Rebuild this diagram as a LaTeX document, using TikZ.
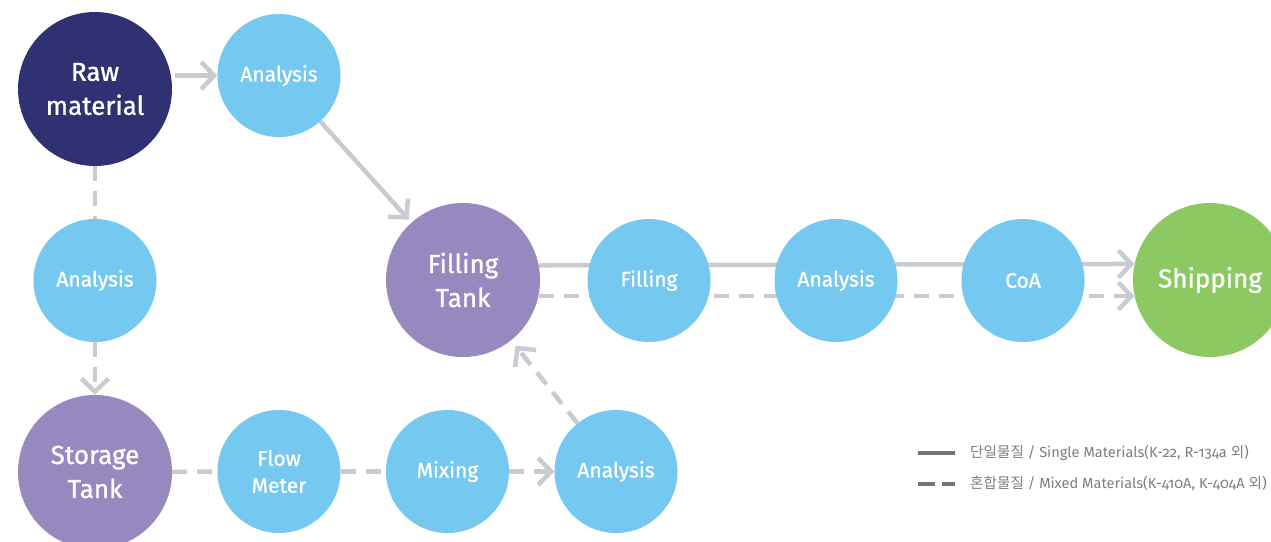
\documentclass[tikz,border=0pt]{standalone}
\usepackage{fontspec}
\setmainfont{Fira Sans}
\newfontfamily\nodefont[FakeBold=1.1]{Fira Sans}
\newfontfamily\krfont{Noto Sans CJK KR}
\newfontfamily\legfont[Numbers=OldStyle]{Fira Sans}
\usetikzlibrary{arrows.meta,backgrounds}
\definecolor{navy}{HTML}{2F3172}
\definecolor{skyblue}{HTML}{75C8EF}
\definecolor{lilac}{HTML}{9788BF}
\definecolor{leaf}{HTML}{8DC963}
\definecolor{linegray}{HTML}{C8CCD1}
\definecolor{leggray}{HTML}{6E777C}
\definecolor{legtext}{HTML}{7B8085}
\begin{document}
\begin{tikzpicture}[x=1pt,y=-1pt,
  bubble/.style={circle,inner sep=0pt,text=white,align=center},
  bigb/.style={bubble,minimum size=154pt,font=\nodefont\fontsize{26}{34}\selectfont},
  smallb/.style={bubble,minimum size=123pt,font=\nodefont\fontsize{21}{27}\selectfont},
  link/.style={draw=linegray,line width=4.5pt},
  dlink/.style={link,dash pattern=on 15pt off 10pt},
  arr/.style={-{Straight Barb[length=13pt,width=27pt]}},
  legline/.style={draw=leggray,line width=4pt},
  legtxt/.style={anchor=west,inner sep=0pt,text=legtext,font=\legfont\fontsize{14.6}{18}\selectfont}
]
\useasboundingbox (0,0) rectangle (1271,541);
\clip (0,0) rectangle (1271,541);
% nodes
\node[bigb,fill=navy] (raw) at (95,89) {Raw\\material};
\node[smallb,fill=skyblue] (an1) at (279,75.5) {Analysis};
\node[smallb,fill=skyblue] (an2) at (95,280.5) {Analysis};
\node[bigb,fill=lilac] (st) at (95,472) {Storage\\Tank};
\node[smallb,fill=skyblue] (fm) at (279,471.5) {Flow\\Meter};
\node[smallb,fill=skyblue] (mx) at (447.5,471.5) {Mixing};
\node[smallb,fill=skyblue] (an3) at (616,471.5) {Analysis};
\node[bigb,fill=lilac] (ft) at (463,280) {Filling\\Tank};
\node[smallb,fill=skyblue] (fl) at (649,280.5) {Filling};
\node[smallb,fill=skyblue] (an4) at (836,280.5) {Analysis};
\node[smallb,fill=skyblue] (coa) at (1023,280.5) {CoA};
\node[bigb,fill=leaf] (ship) at (1210,280) {Shipping};
% connectors
\begin{scope}[on background layer]
\fill[white] (0,0) rectangle (1271,541);
\draw[link,arr,shorten <=3pt] (raw.east |- an1.west) -- (an1.west);
\draw[dlink] (raw) -- (an2);
\draw[dlink,arr] (an2) -- (st);
\draw[link,arr,shorten >=4pt] (an1) -- (ft);
\draw[dlink] (st) -- (fm);
\draw[dlink] (fm) -- (mx);
\draw[dlink,arr] (mx) -- (an3);
\draw[dlink,arr,shorten >=7pt] (an3) -- (ft);
\draw[link,arr] (ft.11.2) -- (ship.168.8);
\draw[dlink,arr] (ft.-12) -- (ship.192);
\end{scope}
% legend
\node[legtxt] (l1) at (970,453) {{\krfont 단일물질} / Single Materials(K-22, R-134a {\krfont 외})};
\node[legtxt] (l2) at (970,484) {{\krfont 혼합물질} / Mixed Materials(K-410A, K-404A {\krfont 외})};
\draw[legline] ([xshift=-52pt]l1.west) -- ([xshift=-15pt]l1.west);
\draw[legline] ([xshift=-52pt]l2.west) -- ([xshift=-35pt]l2.west);
\draw[legline] ([xshift=-28pt]l2.west) -- ([xshift=-15pt]l2.west);
\end{tikzpicture}
\end{document}
